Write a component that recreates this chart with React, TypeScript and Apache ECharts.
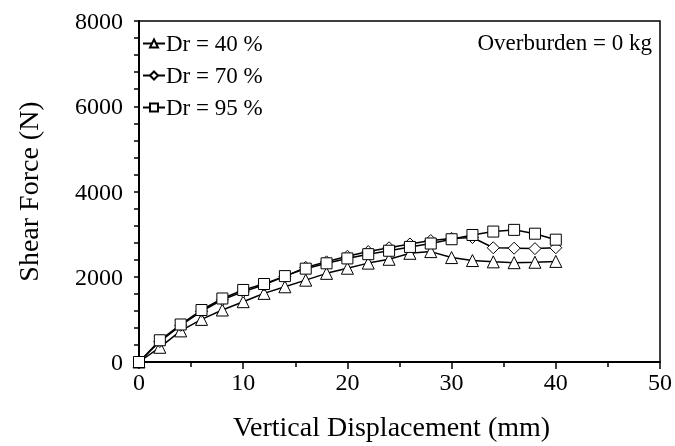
import React, { useEffect, useRef } from "react";
import * as echarts from "echarts";

const displacement = [0, 2, 4, 6, 8, 10, 12, 14, 16, 18, 20, 22, 24, 26, 28, 30, 32, 34, 36, 38, 40];
const dr40 = [0, 345, 730, 1000, 1220, 1415, 1610, 1765, 1920, 2080, 2200, 2320, 2410, 2550, 2590, 2450, 2380, 2350, 2330, 2340, 2360];
const dr70 = [0, 480, 860, 1190, 1460, 1650, 1810, 2010, 2220, 2350, 2480, 2590, 2680, 2770, 2850, 2900, 2920, 2680, 2670, 2660, 2680];
const dr95 = [0, 510, 880, 1220, 1490, 1690, 1830, 2015, 2190, 2315, 2430, 2530, 2610, 2700, 2780, 2880, 2980, 3060, 3100, 3010, 2870];
const seriesNames = ["Dr = 40 %", "Dr = 70 %", "Dr = 95 %"];
const annotation = "Overburden = 0 kg";

const FONT = "Liberation Serif";

export default function App() {
  const ref = useRef<HTMLDivElement>(null);
  useEffect(() => {
    if (!ref.current) return;
    const chart = echarts.init(ref.current, undefined, { renderer: "svg" });
    const mk = (name: string, vals: number[], symbol: string, size: number) => ({
      name,
      type: "line",
      data: displacement.map((x, i) => [x, vals[i]]),
      symbol,
      symbolSize: size,
      showAllSymbol: true,
      lineStyle: { color: "#000", width: 1.5 },
      itemStyle: { color: "#fff", borderColor: "#000", borderWidth: 1 },
    });
    chart.setOption({
      animation: false,
      textStyle: { fontFamily: FONT, color: "#000" },
      grid: { left: 139, right: 15, top: 21, bottom: 84, show: true, borderColor: "#000", borderWidth: 1.5 },
      legend: {
        orient: "vertical",
        left: 137,
        top: 27,
        itemGap: 9,
        itemWidth: 22,
        itemHeight: 10,
        textStyle: { fontFamily: FONT, fontSize: 23, color: "#000", padding: [0, 0, 0, -4] },
        data: seriesNames,
      },
      graphic: [
        {
          type: "text",
          right: 23,
          top: 31,
          style: { text: annotation, font: `23px ${FONT}`, fill: "#000" },
        },
      ],
      xAxis: {
        type: "value",
        min: 0,
        max: 50,
        interval: 10,
        name: "Vertical Displacement (mm)",
        nameLocation: "middle",
        nameGap: 50,
        nameTextStyle: { fontFamily: FONT, fontSize: 28, color: "#000", padding: [0, 16, 0, 0] },
        axisLine: { lineStyle: { color: "#000", width: 2 } },
        axisTick: { show: true, length: 7, lineStyle: { color: "#000", width: 1.5 } },
        minorTick: { show: true, splitNumber: 2, length: 5, lineStyle: { color: "#000", width: 1.5 } },
        splitLine: { show: false },
        axisLabel: { fontFamily: FONT, fontSize: 24, color: "#000", margin: 8, formatter: (v: number) => String(v) },
      },
      yAxis: {
        type: "value",
        min: 0,
        max: 8000,
        interval: 2000,
        name: "Shear Force (N)",
        nameLocation: "middle",
        nameGap: 97,
        nameTextStyle: { fontFamily: FONT, fontSize: 28, color: "#000" },
        axisLine: { show: true, lineStyle: { color: "#000", width: 2 } },
        axisTick: { show: true, length: 5, lineStyle: { color: "#000", width: 1.5 } },
        minorTick: { show: true, splitNumber: 5, length: 5, lineStyle: { color: "#000", width: 1.5 } },
        splitLine: { show: false },
        axisLabel: { fontFamily: FONT, fontSize: 24, color: "#000", margin: 16, formatter: (v: number) => String(v) },
      },
      series: [
        mk(seriesNames[0], dr40, "triangle", 12),
        mk(seriesNames[1], dr70, "diamond", 12),
        mk(seriesNames[2], dr95, "rect", 11),
      ],
    });
    return () => chart.dispose();
  }, []);
  return <div ref={ref} style={{ position: "fixed", left: 0, top: 0, width: 675, height: 446 }} />;
}
